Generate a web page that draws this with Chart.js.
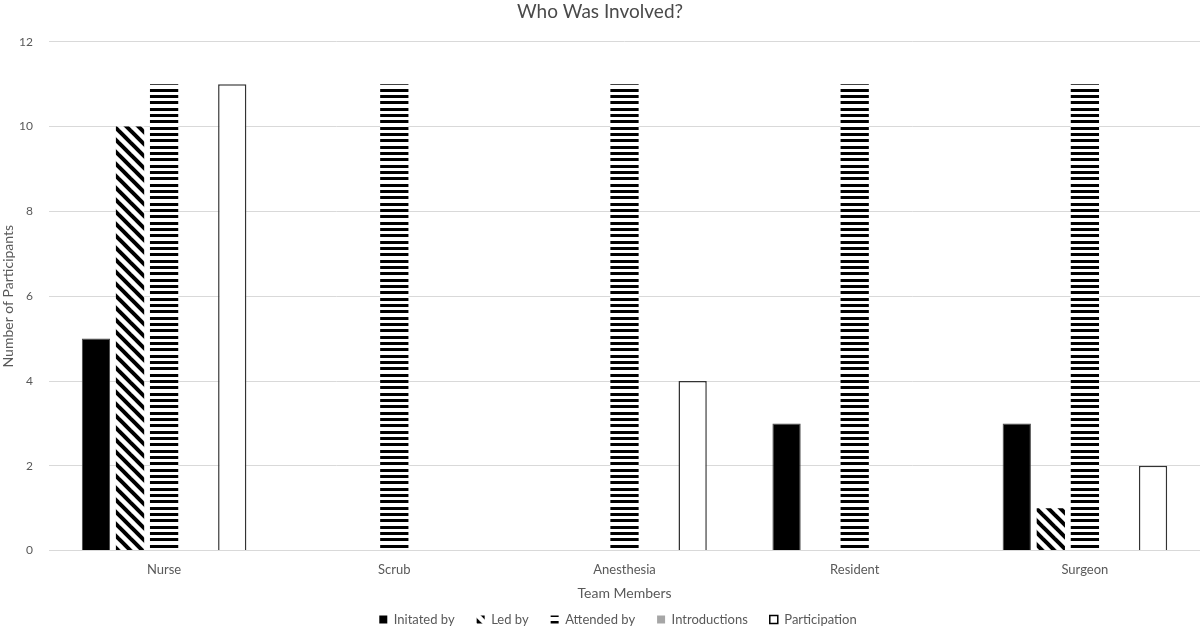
<!DOCTYPE html>
<html>
<head>
<meta charset="utf-8">
<script src="https://cdn.jsdelivr.net/npm/chart.js@4/dist/chart.umd.min.js"></script>
<style>
html,body{margin:0;padding:0;background:#fff;}
#wrap{width:1200px;height:627px;position:relative;}
</style>
</head>
<body>
<div id="wrap"><canvas id="c" width="1200" height="627"></canvas></div>
<script>
const categories = ["Nurse", "Scrub", "Anesthesia", "Resident", "Surgeon"];
const initiatedBy = [5, 0, 0, 3, 3];
const ledBy = [10, 0, 0, 0, 1];
const attendedBy = [11, 11, 11, 11, 11];
const introductions = [0, 0, 0, 0, 0];
const participation = [11, 0, 4, 0, 2];
const seriesNames = ["Initated by", "Led by", "Attended by", "Introductions", "Participation"];

function diagPattern(){
  const s = 12;
  const c = document.createElement('canvas'); c.width = s; c.height = s;
  const x = c.getContext('2d');
  x.fillStyle = '#fff'; x.fillRect(0,0,s,s);
  x.strokeStyle = '#000'; x.lineWidth = 4;
  for (let k=-1;k<=1;k++){
    x.beginPath(); x.moveTo(k*s - 2, -2); x.lineTo(k*s + s + 2, s + 2); x.stroke();
  }
  return x.createPattern(c,'repeat');
}
function horizPattern(){
  const c = document.createElement('canvas'); c.width = 4; c.height = 19;
  const x = c.getContext('2d');
  x.fillStyle = '#fff'; x.fillRect(0,0,4,19);
  x.fillStyle = '#000';
  x.fillRect(0,0,4,3); x.fillRect(0,6,4,3); x.fillRect(0,13,4,3);
  return x.createPattern(c,'repeat');
}
const ctx = document.getElementById('c').getContext('2d');
const diag = diagPattern();
const horiz = horizPattern();
const txt = '#595959';
const fam = 'Lato, "Open Sans", sans-serif';

const legendShift = {
  id: 'legendShift',
  afterLayout(chart) {
    const lg = chart.legend;
    if (lg) { lg.left += 18; lg.right += 18; }
  }
};

new Chart(ctx, {
  type: 'bar',
  data: {
    labels: categories,
    datasets: [
      {label: seriesNames[0], data: initiatedBy, backgroundColor: '#000', borderColor: '#444', borderWidth: 1},
      {label: seriesNames[1], data: ledBy, backgroundColor: diag, borderWidth: 0},
      {label: seriesNames[2], data: attendedBy, backgroundColor: horiz, borderWidth: 0},
      {label: seriesNames[3], data: introductions, backgroundColor: '#a6a6a6', borderWidth: 0},
      {label: seriesNames[4], data: participation, backgroundColor: '#fff', borderColor: '#333', borderWidth: 1.5}
    ]
  },
  plugins: [legendShift],
  options: {
    responsive: false,
    animation: false,
    devicePixelRatio: 1,
    layout: {padding: {left: 0, right: 0, top: 0, bottom: -9}},
    datasets: {bar: {categoryPercentage: 0.74, barPercentage: 0.83}},
    plugins: {
      title: {display: true, text: 'Who Was Involved?', color: '#4a4a4a', font: {family: fam, size: 19, weight: 'normal'}, padding: {top: 0, bottom: 19}},
      legend: {
        position: 'bottom',
        labels: {
          color: txt, font: {family: fam, size: 13}, boxWidth: 8, boxHeight: 8, padding: 22,
          generateLabels: (chart) => chart.data.datasets.map((d,i) => ({
            text: d.label, fillStyle: d.backgroundColor, strokeStyle: i===4 ? '#000' : 'rgba(0,0,0,0)',
            lineWidth: i===4 ? 1.5 : 0, datasetIndex: i, hidden: false, fontColor: txt
          }))
        }
      },
      tooltip: {enabled: false}
    },
    scales: {
      x: {
        grid: {display: false},
        border: {color: '#d9d9d9'},
        ticks: {color: txt, font: {family: fam, size: 13}, padding: 3},
        title: {display: true, text: 'Team Members', color: txt, font: {family: fam, size: 14}, padding: {top: 5, bottom: -11}}
      },
      y: {
        min: 0, max: 12,
        ticks: {stepSize: 2, color: txt, font: {family: fam, size: 12}, padding: 16},
        grid: {color: '#d9d9d9', drawTicks: false, lineWidth: 1},
        border: {display: false},
        title: {display: true, text: 'Number of Participants', color: txt, font: {family: fam, size: 14}, padding: {top: 0, bottom: 0}},
        afterFit: (s) => { s.width = 49; }
      }
    }
  }
});
</script>
</body>
</html>
